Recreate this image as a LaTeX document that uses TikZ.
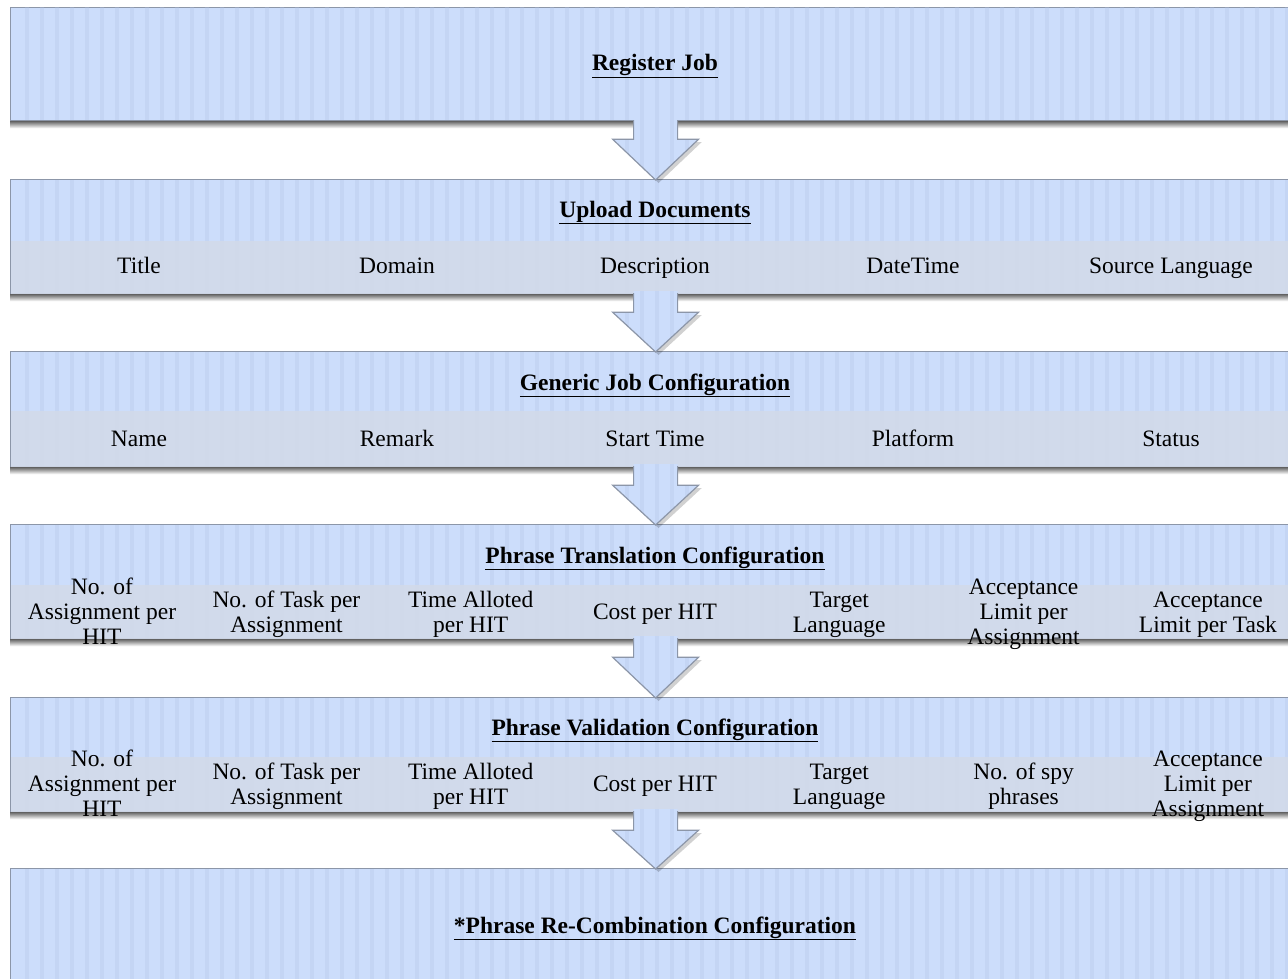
\documentclass[tikz,border=0pt]{standalone}
\usepackage{fontspec}
\setmainfont{Liberation Serif}
\usetikzlibrary{calc}

\definecolor{stageblue}{RGB}{204,221,251}
\definecolor{stripeblue}{RGB}{178,195,228}
\definecolor{bandgrey}{RGB}{210,218,234}
\definecolor{edgegrey}{RGB}{140,150,168}

\tikzset{
  x=1pt, y=-1pt,
  stagebox/.style={rectangle, draw=edgegrey, line width=1.2pt, fill=stageblue,
    inner sep=0pt, minimum width=1290pt, anchor=north west},
  stripe/.style={stripeblue, line width=4pt, opacity=0.3},
  bandfill/.style={fill=bandgrey, opacity=0.9},
  shadowfade/.style={top color=black!55, bottom color=white},
  edge/.style={draw=edgegrey, line width=1.2pt, line join=miter},
  stagetitle/.style={inner sep=0pt, text height=17.5pt, text depth=7.5pt,
    font=\fontsize{23.5}{25}\selectfont\bfseries},
  field/.style={inner sep=0pt, align=center, font=\fontsize{23.5}{25}\selectfont},
  onefield/.style={field, text height=17.5pt, text depth=7.5pt},
}

% striped stage box: name, top, height
\newcommand\stagerect[3]{%
  \node[stagebox, minimum height=#3pt] (#1) at (10,#2) {};
  \begin{scope}
    \clip ($(#1.north west)+(1,1)$) rectangle ($(#1.south east)+(0,-1)$);
    \foreach \sx in {27,42,...,1300} \draw[stripe] (\sx,#2) -- (\sx,#2+#3);
  \end{scope}
  \shade[shadowfade] ($(#1.south west)+(0,0.6)$) rectangle ($(#1.south east)+(0,7)$);
}

% grey field band along the lower part of a stage: name, band height
\newcommand\fieldband[2]{%
  \fill[bandfill] ($(#1.south west)+(0.6,-#2)$) rectangle ($(#1.south east)+(0,-0.6)$);
}

% block arrow from one stage down to the next
\newcommand\flowarrow[2]{%
  \coordinate (#1s1) at ($(#1.south)+(-22,-3)$);
  \coordinate (#1s2) at ($(#1.south)+(-22,18)$);
  \coordinate (#1s3) at ($(#1.south)+(-43,18)$);
  \coordinate (#1tip) at ($(#2.north)+(0,1)$);
  \coordinate (#1s4) at ($(#1.south)+(43,18)$);
  \coordinate (#1s5) at ($(#1.south)+(22,18)$);
  \coordinate (#1s6) at ($(#1.south)+(22,-3)$);
  \fill[black, opacity=0.18] ($(#1s2)+(3,3)$) -- ($(#1s3)+(3,3)$) -- ($(#1tip)+(3,3)$)
     -- ($(#1s4)+(3,3)$) -- ($(#1s5)+(3,3)$) -- cycle;
  \begin{scope}
    \clip (#1s1) -- (#1s2) -- (#1s3) -- (#1tip) -- (#1s4) -- (#1s5) -- (#1s6) -- cycle;
    \fill[stageblue] (#1s1) -- (#1s2) -- (#1s3) -- (#1tip) -- (#1s4) -- (#1s5) -- (#1s6) -- cycle;
    \foreach \sx in {597,612,...,717} \draw[stripe] (\sx,0) -- (\sx,1000);
  \end{scope}
  \draw[edge] ($(#1s1)+(0,2)$) -- (#1s2) -- (#1s3) -- (#1tip) -- (#1s4) -- (#1s5) -- ($(#1s6)+(0,2)$);
}

\begin{document}
\begin{tikzpicture}
\useasboundingbox (0,0) rectangle (1288,979);
\fill[white] (0,0) rectangle (1288,979);

% stages
\stagerect{reg}{7}{113}
\stagerect{upl}{179}{114}
\fieldband{upl}{53}
\stagerect{gen}{351}{115}
\fieldband{gen}{56}
\stagerect{ptc}{524}{114}
\fieldband{ptc}{54}
\stagerect{pvc}{697}{114}
\fieldband{pvc}{55}
\stagerect{prc}{868}{114}

% arrows between stages
\flowarrow{reg}{upl}
\flowarrow{upl}{gen}
\flowarrow{gen}{ptc}
\flowarrow{ptc}{pvc}
\flowarrow{pvc}{prc}

% titles
\node[stagetitle] (regT) at (655,66) {\underline{Register Job}};
\node[stagetitle] (uplT) at (655,212) {\underline{Upload Documents}};
\node[stagetitle] (genT) at (655,385) {\underline{Generic Job Configuration}};
\node[stagetitle] (ptcT) at (655,558) {\underline{Phrase Translation Configuration}};
\node[stagetitle] (pvcT) at (655,730) {\underline{Phrase Validation Configuration}};
\node[stagetitle] (prcT) at (655,928) {\underline{*Phrase Re-Combination Configuration}};

% upload fields
\node[onefield] (u1) at (139,268) {Title};
\node[onefield] (u2) at (397,268) {Domain};
\node[onefield] (u3) at (655,268) {Description};
\node[onefield] (u4) at (913,268) {DateTime};
\node[onefield] (u5) at (1171,268) {Source Language};

% generic job fields
\node[onefield] (g1) at (139,441) {Name};
\node[onefield] (g2) at (397,441) {Remark};
\node[onefield] (g3) at (655,441) {Start Time};
\node[onefield] (g4) at (913,441) {Platform};
\node[onefield] (g5) at (1171,441) {Status};

% phrase translation fields
\node[field] (t1) at (102,614) {\strut No. of\\\strut Assignment per\\\strut HIT};
\node[field] (t2) at (286.4,614.5) {\strut No. of Task per\\\strut Assignment};
\node[field] (t3) at (470.7,614.5) {\strut Time Alloted\\\strut per HIT};
\node[onefield] (t4) at (655,614) {Cost per HIT};
\node[field] (t5) at (839.3,614.5) {\strut Target\\\strut Language};
\node[field] (t6) at (1023.6,614) {\strut Acceptance\\\strut Limit per\\\strut Assignment};
\node[field] (t7) at (1207.9,614.5) {\strut Acceptance\\\strut Limit per Task};

% phrase validation fields
\node[field] (v1) at (102,786) {\strut No. of\\\strut Assignment per\\\strut HIT};
\node[field] (v2) at (286.4,786.5) {\strut No. of Task per\\\strut Assignment};
\node[field] (v3) at (470.7,786.5) {\strut Time Alloted\\\strut per HIT};
\node[onefield] (v4) at (655,786) {Cost per HIT};
\node[field] (v5) at (839.3,786.5) {\strut Target\\\strut Language};
\node[field] (v6) at (1023.6,786.5) {\strut No. of spy\\\strut phrases};
\node[field] (v7) at (1207.9,786) {\strut Acceptance\\\strut Limit per\\\strut Assignment};
\end{tikzpicture}
\end{document}
